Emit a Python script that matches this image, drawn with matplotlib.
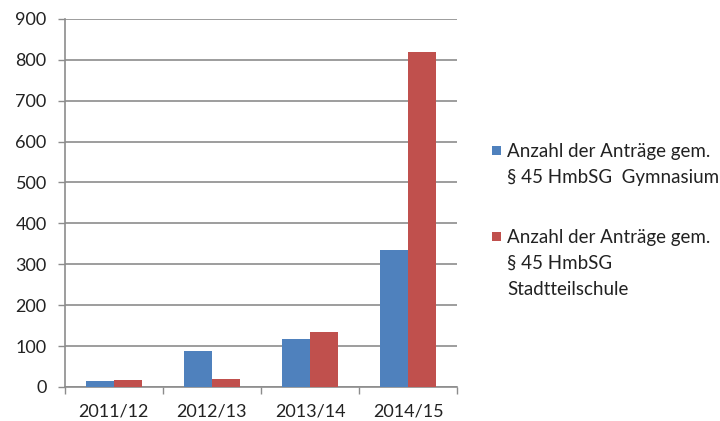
import numpy as np
import matplotlib
matplotlib.use("Agg")
import matplotlib.pyplot as plt
from matplotlib.patches import Rectangle

# Daten
jahre = ["2011/12", "2012/13", "2013/14", "2014/15"]
gymnasium = [14, 88, 118, 336]
stadtteilschule = [18, 19, 134, 818]
label_gym = ["Anzahl der Anträge gem.", "§ 45 HmbSG  Gymnasium"]
label_sts = ["Anzahl der Anträge gem.", "§ 45 HmbSG", "Stadtteilschule"]
yticks = [0, 100, 200, 300, 400, 500, 600, 700, 800, 900]

blau = "#4F81BD"
rot = "#C0504D"
grau = "#8C8C8C"
textfarbe = "#222222"

plt.rcParams['font.family'] = ['Lato', 'DejaVu Sans']

W, H = 720, 421
fig = plt.figure(figsize=(W / 100, H / 100), dpi=100)
ax = fig.add_axes([0.090, 0.081, 0.545, 0.874])

x = np.arange(len(jahre))
w = 0.285
ax.bar(x - w / 2, gymnasium, width=w, color=blau, zorder=3)
ax.bar(x + w / 2, stadtteilschule, width=w, color=rot, zorder=3)

ax.set_xlim(-0.5, len(jahre) - 0.5)
ax.set_ylim(0, 900)
ax.set_yticks(yticks)
ax.set_xticks(x)
ax.set_xticklabels(jahre)
ax.tick_params(axis='x', length=0, pad=12, labelsize=13, colors=textfarbe)
ax.tick_params(axis='y', length=5, width=1, color=grau, pad=8, labelsize=13, labelcolor=textfarbe)
# Teilstriche an den Kategoriegrenzen
ax.set_xticks(np.arange(-0.5, len(jahre)), minor=True)
ax.tick_params(axis='x', which='minor', length=5, width=1, color=grau)

ax.grid(axis='y', color=grau, linewidth=1.2, zorder=0)
for s in ["top", "right"]:
    ax.spines[s].set_visible(False)
for s in ["left", "bottom"]:
    ax.spines[s].set_color(grau)
    ax.spines[s].set_linewidth(1.2)

# Legende von Hand (Kästchen oben an der ersten Zeile)
def eintrag(farbe, zeilen, y_mitte):
    fig.add_artist(Rectangle((492 / W, 1 - (y_mitte + 4.5) / H), 9 / W, 9 / H,
                             facecolor=farbe, edgecolor="none", transform=fig.transFigure))
    for i, z in enumerate(zeilen):
        fig.text(507 / W, 1 - (y_mitte + 7 + i * 25.8) / H, z, fontsize=13.5,
                 color=textfarbe, va="baseline", ha="left")

eintrag(blau, label_gym, 150)
eintrag(rot, label_sts, 236)

fig.savefig("out.png", dpi=100)
